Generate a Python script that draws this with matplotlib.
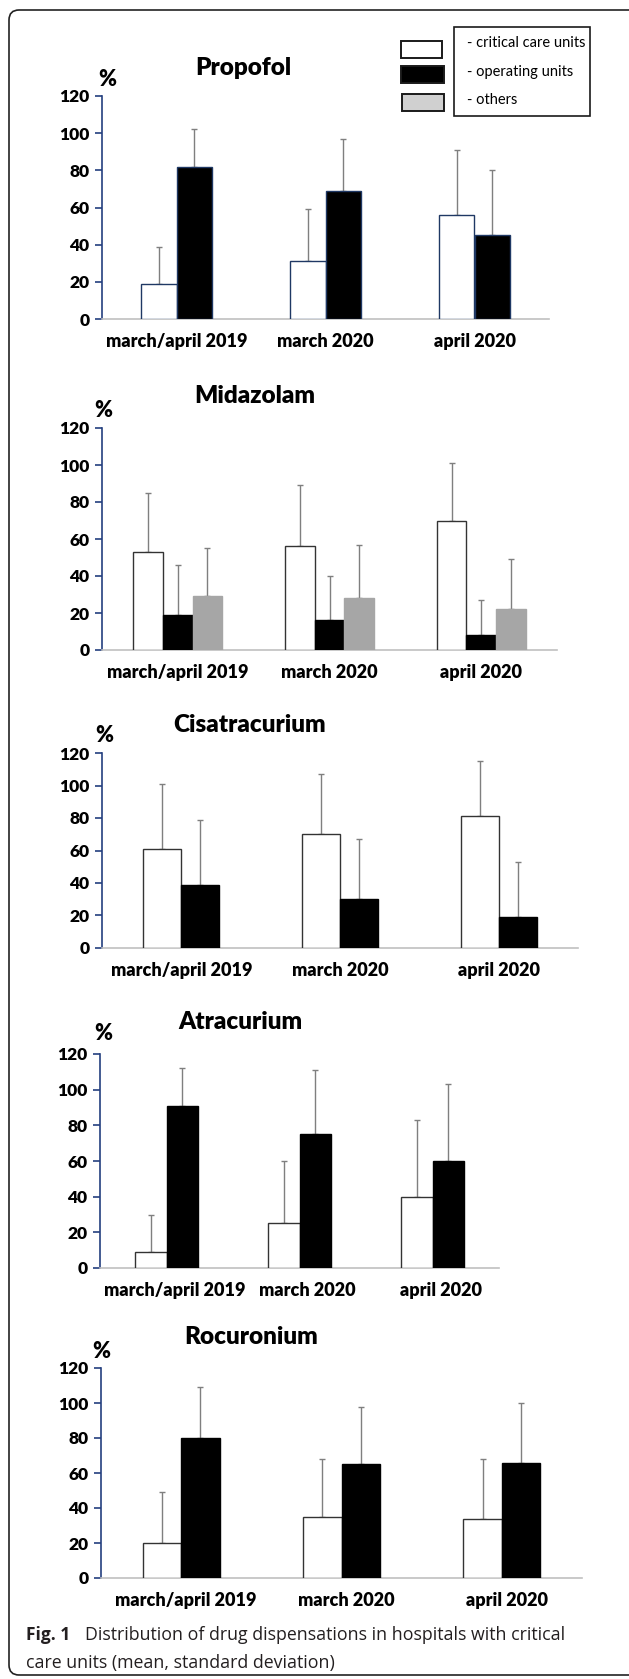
import matplotlib
matplotlib.use("Agg")
import matplotlib.pyplot as plt
from matplotlib.patches import Rectangle, FancyBboxPatch
from matplotlib.transforms import ScaledTranslation
import numpy as np

plt.rcParams['font.family'] = ['Lato', 'DejaVu Sans']

# ---------------- data ----------------
categories = ["march/april 2019", "march 2020", "april 2020"]
drugs = ["Propofol", "Midazolam", "Cisatracurium", "Atracurium", "Rocuronium"]
series_names = ["- critical care units", "- operating units", "- others"]

propofol_critical = [19, 31, 56]
propofol_critical_sd = [20, 28, 35]
propofol_operating = [82, 69, 45]
propofol_operating_sd = [20, 28, 35]

midazolam_critical = [53, 56, 70]
midazolam_critical_sd = [32, 33, 31]
midazolam_operating = [19, 16, 8]
midazolam_operating_sd = [27, 24, 19]
midazolam_others = [29, 28, 22]
midazolam_others_sd = [26, 29, 27]

cisatracurium_critical = [61, 70, 81]
cisatracurium_critical_sd = [40, 37, 34]
cisatracurium_operating = [39, 30, 19]
cisatracurium_operating_sd = [40, 37, 34]

atracurium_critical = [9, 25, 40]
atracurium_critical_sd = [21, 35, 43]
atracurium_operating = [91, 75, 60]
atracurium_operating_sd = [21, 36, 43]

rocuronium_critical = [20, 35, 34]
rocuronium_critical_sd = [29, 33, 34]
rocuronium_operating = [80, 65, 66]
rocuronium_operating_sd = [29, 33, 34]

yticks = [0, 20, 40, 60, 80, 100, 120]

# ---------------- layout ----------------
W, H = 629, 1679
fig = plt.figure(figsize=(W / 100, H / 100), dpi=100)


def fx(x):
    return x / W


def fy(y):
    return 1 - y / H


NAVY = '#243f7f'
ERR = '#7f7f7f'
HEAVY = 'heavy'

panels = [
    dict(name=drugs[0],
         series=[(propofol_critical, propofol_critical_sd, 'white', '#1f3864'),
                 (propofol_operating, propofol_operating_sd, 'black', '#1f3864')],
         box=(102, 549, 319, 96), width=0.24, title=(243, 68), pct=(107, 80), lshift=0),
    dict(name=drugs[1],
         series=[(midazolam_critical, midazolam_critical_sd, 'white', '#333333'),
                 (midazolam_operating, midazolam_operating_sd, 'black', 'black'),
                 (midazolam_others, midazolam_others_sd, '#a6a6a6', '#a6a6a6')],
         box=(102, 557, 650, 428), width=0.195, title=(255, 396), pct=(103, 410), lshift=0),
    dict(name=drugs[2],
         series=[(cisatracurium_critical, cisatracurium_critical_sd, 'white', '#333333'),
                 (cisatracurium_operating, cisatracurium_operating_sd, 'black', 'black')],
         box=(102, 578, 948, 753), width=0.24, title=(250, 725), pct=(104, 735), lshift=0),
    dict(name=drugs[3],
         series=[(atracurium_critical, atracurium_critical_sd, 'white', '#333333'),
                 (atracurium_operating, atracurium_operating_sd, 'black', 'black')],
         box=(100, 499, 1268, 1054), width=0.24, title=(240, 1022), pct=(103, 1033), lshift=8),
    dict(name=drugs[4],
         series=[(rocuronium_critical, rocuronium_critical_sd, 'white', '#333333'),
                 (rocuronium_operating, rocuronium_operating_sd, 'black', 'black')],
         box=(101, 582, 1578, 1368), width=0.24, title=(251, 1337), pct=(101, 1352), lshift=5),
]

x = np.arange(len(categories))

for p in panels:
    x0, x1, y0, y120 = p['box']
    ax = fig.add_axes([fx(x0), fy(y0), (x1 - x0) / W, (y0 - y120) / H])
    ax.set_xlim(-0.5, len(categories) - 0.5)
    ax.set_ylim(0, 120)
    n = len(p['series'])
    w = p['width']
    offsets = (np.arange(n) - (n - 1) / 2) * w
    for (vals, sds, fc, ec), off in zip(p['series'], offsets):
        ax.bar(x + off, vals, width=w, color=fc, edgecolor=ec, linewidth=1.0, zorder=3)
        ax.errorbar(x + off, vals, yerr=[np.zeros(len(vals)), sds], fmt='none',
                    ecolor=ERR, elinewidth=1.0, capsize=2.2, capthick=1.0, zorder=2)
    for s in ['top', 'right']:
        ax.spines[s].set_visible(False)
    ax.spines['left'].set_color(NAVY)
    ax.spines['left'].set_linewidth(1.2)
    ax.spines['bottom'].set_color('#c0c0c0')
    ax.spines['bottom'].set_linewidth(1.2)
    ax.set_yticks(yticks)
    ax.set_yticklabels([str(t) for t in yticks], fontsize=12.5, fontweight=HEAVY)
    ax.tick_params(axis='y', direction='out', length=5, width=1.2, color=NAVY, pad=4)
    ax.set_xticks(x)
    ax.set_xticklabels(categories, fontsize=13, fontweight=HEAVY)
    ax.tick_params(axis='x', length=0, pad=10)
    if p['lshift']:
        shift = ScaledTranslation(p['lshift'] / 100, 0, fig.dpi_scale_trans)
        for lab in ax.get_xticklabels():
            lab.set_transform(lab.get_transform() + shift)
    ax.patch.set_visible(False)

    tx, ty = p['title']
    fig.text(fx(tx), fy(ty), p['name'], ha='center', va='center', fontsize=17.5, fontweight=HEAVY)
    px, py = p['pct']
    fig.text(fx(px), fy(py), '%', ha='center', va='center', fontsize=15.5, fontweight=HEAVY)

# ---------------- legend ----------------
legend_fills = ['white', 'black', '#d0d0d0']
legend_boxes = [(401, 41, 442, 58), (401, 66, 444, 83), (402, 94, 444, 111)]
legend_text_y = [43, 72, 100]
for fc, (bx0, by0, bx1, by1), name, tyy in zip(legend_fills, legend_boxes, series_names, legend_text_y):
    fig.patches.append(Rectangle((fx(bx0), fy(by1)), (bx1 - bx0) / W, (by1 - by0) / H,
                                 transform=fig.transFigure, facecolor=fc, edgecolor='#1a1a1a',
                                 linewidth=1.4))
    fig.text(fx(467), fy(tyy), name, ha='left', va='center', fontsize=10.5)
fig.patches.append(Rectangle((fx(454), fy(116)), (590 - 454) / W, (116 - 27) / H,
                             transform=fig.transFigure, facecolor='none', edgecolor='#1a1a1a',
                             linewidth=1.2))

# ---------------- outer border ----------------
fig.patches.append(FancyBboxPatch((fx(9), fy(1675)), (640 - 9) / W, (1675 - 10) / H,
                                  boxstyle="round,pad=0,rounding_size=0.016",
                                  transform=fig.transFigure, facecolor='none',
                                  edgecolor='#222222', linewidth=1.2, mutation_aspect=W / H))

# ---------------- caption ----------------
CAP = ['Open Sans', 'DejaVu Sans']
fig.text(fx(26), fy(1635), "Fig. 1", ha='left', va='center', fontsize=12.5, fontweight='bold',
         color='#231f20', family=CAP)
fig.text(fx(85), fy(1635), "Distribution of drug dispensations in hospitals with critical",
         ha='left', va='center', fontsize=12.8, color='#231f20', family=CAP)
fig.text(fx(26), fy(1663), "care units (mean, standard deviation)", ha='left', va='center',
         fontsize=12.8, color='#231f20', family=CAP)

fig.savefig("out.png", dpi=100)
